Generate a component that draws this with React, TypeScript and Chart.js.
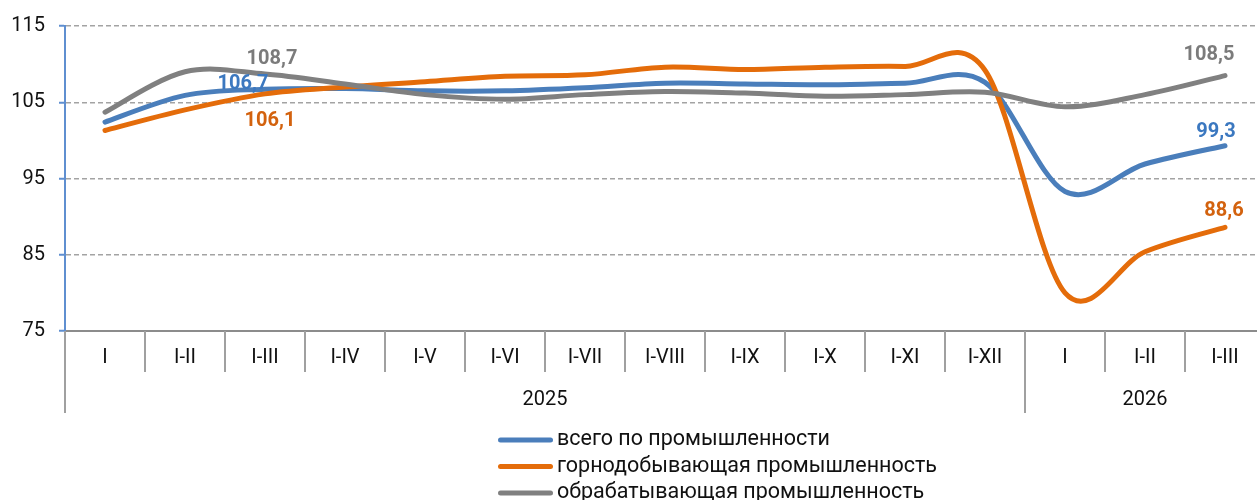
import React, { useEffect, useRef } from 'react';
import { Chart, registerables } from 'chart.js';

Chart.register(...registerables);

const categories = ['I', 'I-II', 'I-III', 'I-IV', 'I-V', 'I-VI', 'I-VII', 'I-VIII', 'I-IX', 'I-X', 'I-XI', 'I-XII', 'I', 'I-II', 'I-III'];
const years = ['2025', '2026'];
const yearSpans = [12, 3];
const seriesNames = ['всего по промышленности', 'горнодобывающая промышленность', 'обрабатывающая промышленность'];
const totalValues = [102.4, 105.9, 106.7, 106.8, 106.5, 106.5, 106.9, 107.5, 107.4, 107.3, 107.5, 107.6, 93.3, 96.9, 99.3];
const miningValues = [101.3, 104.0, 106.1, 107.0, 107.7, 108.4, 108.6, 109.6, 109.3, 109.6, 109.7, 109.2, 80.0, 85.4, 88.6];
const manufValues = [103.7, 109.0, 108.7, 107.4, 106.0, 105.4, 106.0, 106.4, 106.2, 105.8, 106.0, 106.3, 104.4, 106.0, 108.5];
const yMin = 75;
const yMax = 115;
const yStep = 10;
const labelledIndices = [2, 14];

const lineColors = ['#4a7ebb', '#e46c0a', '#808080'];
const labelColors = ['#3b78c0', '#d3620e', '#7b7b7b'];
// label offsets (style): per series, per labelled index
const labelOffsets = [
  [{ dx: -22, dy: -5 }, { dx: -9, dy: -14 }],
  [{ dx: 5, dy: 27 }, { dx: -1, dy: -16 }],
  [{ dx: 7, dy: -15 }, { dx: -16, dy: -21 }],
];

const FONT = 'Roboto';

const excelSmooth = {
  id: 'excelSmooth',
  beforeDatasetDraw(chart: any, args: any) {
    const meta = args.meta;
    const line = meta.dataset;
    const pts = meta.data;
    if (!line || !pts || pts.length < 2) return;
    line.updateControlPoints(chart.chartArea, meta.iScale.axis);
    for (let i = 0; i < pts.length; i++) {
      const p = pts[i];
      const prev = pts[Math.max(i - 1, 0)];
      const next = pts[Math.min(i + 1, pts.length - 1)];
      const dx = (next.x - prev.x) / 6;
      const dy = (next.y - prev.y) / 6;
      p.cp1x = p.x - dx;
      p.cp1y = p.y - dy;
      p.cp2x = p.x + dx;
      p.cp2y = p.y + dy;
    }
    line._path = undefined;
  },
};

const decorations = {
  id: 'decorations',
  afterDraw(chart: any) {
    const { ctx } = chart;
    const x = chart.scales.x;
    const bottom = chart.chartArea.bottom;
    const n = categories.length;
    const boundary = (i: number) =>
      i === 0 ? x.left : i === n ? x.right : (x.getPixelForTick(i - 1) + x.getPixelForTick(i)) / 2;
    const groupEdges = [0];
    yearSpans.forEach((s) => groupEdges.push(groupEdges[groupEdges.length - 1] + s));

    ctx.save();
    ctx.strokeStyle = '#a0a0a0';
    ctx.lineWidth = 2;
    for (let i = 0; i <= n; i++) {
      const isGroup = groupEdges.includes(i);
      const bx = Math.round(boundary(i));
      ctx.beginPath();
      ctx.moveTo(bx, bottom);
      ctx.lineTo(bx, bottom + (isGroup ? 82 : 41));
      ctx.stroke();
    }

    ctx.font = `20px ${FONT}`;
    ctx.fillStyle = '#111';
    ctx.textAlign = 'center';
    ctx.textBaseline = 'middle';
    years.forEach((yr, g) => {
      const cx = (boundary(groupEdges[g]) + boundary(groupEdges[g + 1])) / 2;
      ctx.fillText(yr, cx, bottom + 69);
    });

    // data labels
    ctx.font = `bold 20px ${FONT}`;
    chart.data.datasets.forEach((ds: any, di: number) => {
      const meta = chart.getDatasetMeta(di);
      labelledIndices.forEach((idx, li) => {
        const pt = meta.data[idx];
        const off = labelOffsets[di][li];
        ctx.fillStyle = labelColors[di];
        ctx.fillText(ds.data[idx].toFixed(1).replace('.', ','), pt.x + off.dx, pt.y + off.dy);
      });
    });

    // legend
    ctx.textAlign = 'left';
    ctx.font = `21.5px ${FONT}`;
    ctx.lineCap = 'round';
    chart.data.datasets.forEach((ds: any, di: number) => {
      const ly = 440 + di * 26.5;
      ctx.strokeStyle = ds.borderColor;
      ctx.lineWidth = 5;
      ctx.beginPath();
      ctx.moveTo(500.5, ly);
      ctx.lineTo(550.5, ly);
      ctx.stroke();
      ctx.fillStyle = '#111';
      ctx.fillText(ds.label, 557, ly);
    });
    ctx.restore();
  },
};

export default function App() {
  const ref = useRef<HTMLCanvasElement>(null);
  useEffect(() => {
    const canvas = ref.current!;
    const mk = (label: string, data: number[], color: string, order: number) => ({
      label,
      data,
      borderColor: color,
      backgroundColor: color,
      borderWidth: 5,
      borderCapStyle: 'round' as const,
      borderJoinStyle: 'round' as const,
      pointRadius: 0,
      tension: 0.4,
      fill: false,
      order,
    });
    const chart = new Chart(canvas, {
      type: 'line',
      data: {
        labels: categories,
        datasets: [
          mk(seriesNames[0], totalValues, lineColors[0], 3),
          mk(seriesNames[1], miningValues, lineColors[1], 2),
          mk(seriesNames[2], manufValues, lineColors[2], 1),
        ],
      },
      options: {
        responsive: false,
        animation: false,
        devicePixelRatio: 1,
        layout: { padding: { top: 24, left: 0, right: 0, bottom: 0 } },
        plugins: { legend: { display: false }, tooltip: { enabled: false } },
        scales: {
          x: {
            type: 'category',
            offset: true,
            grid: { display: false, drawTicks: false },
            border: { display: true, color: '#8c8c8c', width: 2 },
            ticks: {
              font: { family: FONT, size: 20 },
              color: '#111',
              padding: 15,
              maxRotation: 0,
              autoSkip: false,
            },
            afterFit: (s: any) => {
              s.height = 169;
            },
          },
          y: {
            min: yMin,
            max: yMax,
            ticks: {
              stepSize: yStep,
              font: { family: FONT, size: 20 },
              color: '#111',
              padding: 14,
            },
            grid: {
              color: '#a3a3a3',
              lineWidth: 1.5,
              tickColor: '#5f8fd0',
              tickLength: 6,
              tickWidth: 2,
              tickBorderDash: [],
            },
            border: { display: true, color: '#5f8fd0', width: 2, dash: [5, 3] },
            afterFit: (s: any) => {
              s.width = 65;
            },
          },
        },
      } as any,
      plugins: [excelSmooth, decorations],
    });
    return () => chart.destroy();
  }, []);

  return (
    <div style={{ position: 'absolute', left: 0, top: 0, width: 1257, height: 500, overflow: 'hidden', background: '#fff' }}>
      <canvas ref={ref} width={1265} height={500} style={{ display: 'block' }} />
    </div>
  );
}
